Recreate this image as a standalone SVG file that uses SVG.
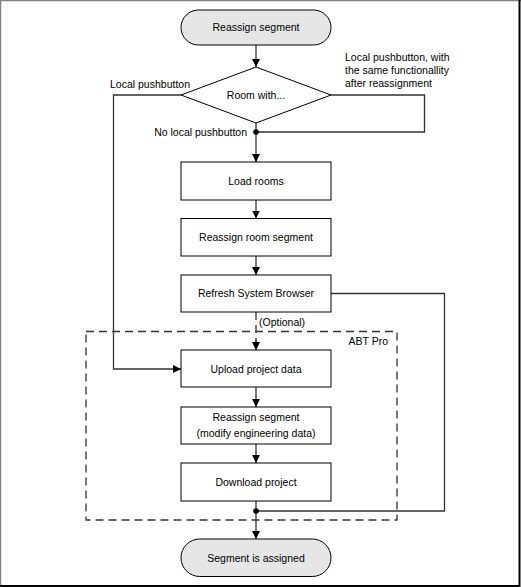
<svg xmlns="http://www.w3.org/2000/svg" width="521" height="587" viewBox="0 0 521 587">
<style>
text{font-family:"Liberation Sans",Arial,sans-serif;font-size:10.5px;fill:#000}
.c{text-anchor:middle}
.box{fill:#fff;stroke:#000;stroke-width:1}
.term{fill:#e6e6e6;stroke:#000;stroke-width:1}
.ln{fill:none;stroke:#333;stroke-width:1.3}
.dash{fill:none;stroke:#333;stroke-width:1.3;stroke-dasharray:8 5}
</style>
<defs>
<marker id="ah" viewBox="0 0 10 10" refX="10" refY="5" markerWidth="8" markerHeight="8" markerUnits="userSpaceOnUse" orient="auto">
<path d="M0,0 L10,5 L0,10 z" fill="#000"/>
</marker>
</defs>
<rect x="0" y="0" width="521" height="587" fill="#fff"/>
<path d="M0.5,587 V0.5 H521" fill="none" stroke="#808080" stroke-width="1.5"/>
<path d="M0,586 H519.5 V0" fill="none" stroke="#000" stroke-width="2"/>

<g id="abt-pro">
<rect class="dash" x="86" y="331.5" width="311" height="188.5"/>
<text x="388" y="345" text-anchor="end">ABT Pro</text>
</g>

<g id="connectors">
<path class="ln" d="M256,45 V67" marker-end="url(#ah)"/>
<path class="ln" d="M181,95 H113.5 V369 H181" marker-end="url(#ah)"/>
<path class="ln" d="M331,95 H424.5 V132 H256"/>
<path class="ln" d="M256,123 V162" marker-end="url(#ah)"/>
<circle cx="256" cy="132" r="2.8" fill="#000"/>
<path class="ln" d="M256,200 V218.5" marker-end="url(#ah)"/>
<path class="ln" d="M256,256 V275" marker-end="url(#ah)"/>
<path class="dash" d="M256,312 V342" stroke-dasharray="6 3"/>
<path class="ln" d="M256,340 V350" marker-end="url(#ah)"/>
<path class="ln" d="M331,293.5 H444.5 V511 H256"/>
<path class="ln" d="M256,387 V407" marker-end="url(#ah)"/>
<path class="ln" d="M256,444 V463" marker-end="url(#ah)"/>
<path class="ln" d="M256,501 V539" marker-end="url(#ah)"/>
<circle cx="256" cy="511" r="2.8" fill="#000"/>
<text x="110" y="88">Local pushbutton</text>
<text x="247" y="136" text-anchor="end">No local pushbutton</text>
<text x="345" y="61">Local pushbutton, with</text>
<text x="345" y="74">the same functionallity</text>
<text x="345" y="87">after reassignment</text>
<text x="259" y="326">(Optional)</text>
</g>

<g id="start">
<rect class="term" x="181" y="10" width="150" height="35" rx="17.5"/>
<text class="c" x="256" y="31">Reassign segment</text>
</g>
<g id="decision">
<polygon class="box" points="256,67 331,95 256,123 181,95"/>
<text class="c" x="256" y="99">Room with...</text>
</g>
<g id="load-rooms">
<rect class="box" x="181" y="162" width="150" height="38"/>
<text class="c" x="256" y="185">Load rooms</text>
</g>
<g id="reassign-room-segment">
<rect class="box" x="181" y="218.5" width="150" height="37.5"/>
<text class="c" x="256" y="241">Reassign room segment</text>
</g>
<g id="refresh-system-browser">
<rect class="box" x="181" y="275" width="150" height="37"/>
<text class="c" x="256" y="297">Refresh System Browser</text>
</g>
<g id="upload-project-data">
<rect class="box" x="181" y="350" width="150" height="37"/>
<text class="c" x="256" y="372.5">Upload project data</text>
</g>
<g id="reassign-segment-eng">
<rect class="box" x="181" y="407" width="150" height="37"/>
<text class="c" x="256" y="420.5">Reassign segment</text>
<text class="c" x="256" y="437">(modify engineering data)</text>
</g>
<g id="download-project">
<rect class="box" x="181" y="463" width="150" height="38"/>
<text class="c" x="256" y="486">Download project</text>
</g>
<g id="end">
<rect class="term" x="181" y="539" width="150" height="37.5" rx="18.75"/>
<text class="c" x="256" y="561.5">Segment is assigned</text>
</g>
</svg>
